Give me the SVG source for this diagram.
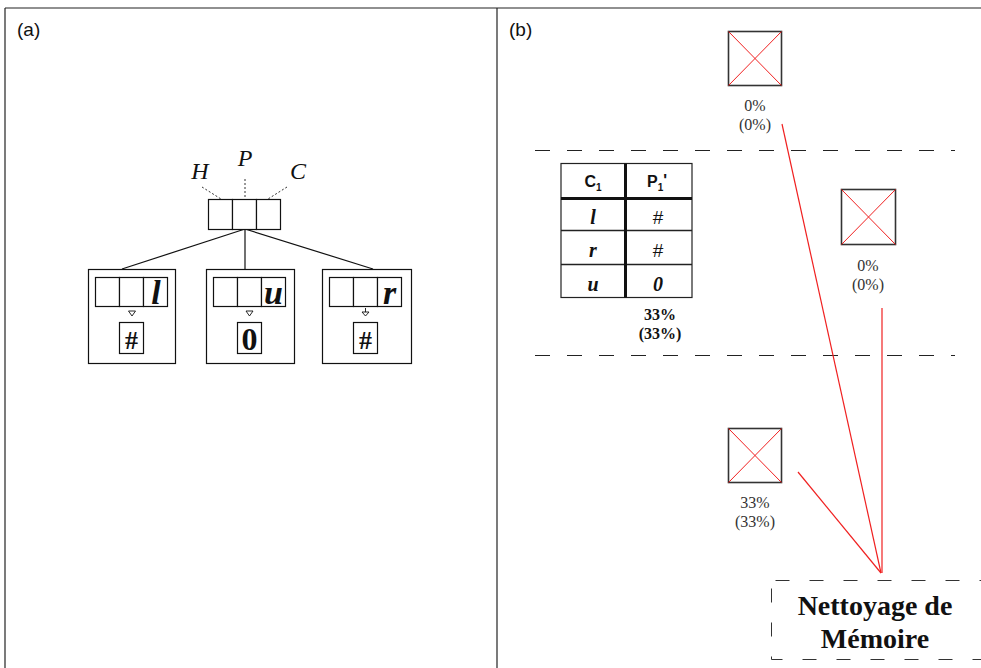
<svg xmlns="http://www.w3.org/2000/svg" width="981" height="668" viewBox="0 0 981 668">
<style>
.frame{stroke:#222;stroke-width:1.2;fill:none}
.box{fill:#fff;stroke:#111;stroke-width:1.2}
.lbl{font-family:"Liberation Sans",Arial,sans-serif;font-size:19px;fill:#111}
.it{font-family:"Liberation Serif","Times New Roman",serif;font-style:italic;font-size:24px;fill:#111;text-anchor:middle}
.bi{font-family:"Liberation Serif","Times New Roman",serif;font-style:italic;font-weight:bold;font-size:34px;fill:#111;text-anchor:middle}
.val{font-family:"Liberation Serif","Times New Roman",serif;font-weight:bold;font-size:26px;fill:#111;text-anchor:middle}
.dot{stroke:#333;stroke-width:1;stroke-dasharray:2 2;fill:none}
.edge{stroke:#111;stroke-width:1.2;fill:none}
.tri{fill:#fff;stroke:#111;stroke-width:0.9}
.dash{stroke:#222;stroke-width:1;stroke-dasharray:15 17;fill:none}
.cell{fill:#fff;stroke:#222;stroke-width:1.2}
.thick{stroke:#111;stroke-width:3;fill:none}
.thin{stroke:#222;stroke-width:1.5;fill:none}
.th{font-family:"Liberation Sans",Arial,sans-serif;font-weight:bold;font-size:16px;fill:#111;text-anchor:middle}
.tb{font-family:"Liberation Serif","Times New Roman",serif;font-style:italic;font-weight:bold;font-size:20px;fill:#111;text-anchor:middle}
.ta{font-family:"Liberation Sans",Arial,sans-serif;font-size:19px;fill:#111;text-anchor:middle}
.pct{font-family:"Liberation Serif","Times New Roman",serif;font-size:16px;fill:#333;text-anchor:middle}
.pctb{font-family:"Liberation Serif","Times New Roman",serif;font-weight:bold;font-size:16px;fill:#111;text-anchor:middle}
.xbox{fill:#fff;stroke:#333;stroke-width:1.6}
.x{stroke:#f02020;stroke-width:1}
.red{stroke:#f02020;stroke-width:1.2;fill:none}
.big{font-family:"Liberation Serif","Times New Roman",serif;font-weight:bold;font-size:28px;fill:#111;text-anchor:middle}
</style>

<g id="frame">
<line class="frame" x1="5" y1="8" x2="981" y2="8"/>
<line class="frame" x1="5" y1="8" x2="5" y2="668"/>
<line class="frame" x1="497" y1="8" x2="497" y2="668"/>
<text class="lbl" x="17" y="36">(a)</text>
<text class="lbl" x="509" y="36">(b)</text>
</g>

<!-- Part (a) -->
<g id="connectors-a">
<line class="dot" x1="202" y1="187" x2="221" y2="199"/>
<line class="dot" x1="245" y1="179" x2="245" y2="199"/>
<line class="dot" x1="287" y1="187" x2="268" y2="199"/>
<line class="edge" x1="245" y1="229" x2="122" y2="269"/>
<line class="edge" x1="245" y1="229" x2="245" y2="269"/>
<line class="edge" x1="245" y1="229" x2="373" y2="269"/>
</g>

<g id="root-node">
<rect class="box" x="208.5" y="199.5" width="24" height="30"/>
<rect class="box" x="232.5" y="199.5" width="24" height="30"/>
<rect class="box" x="256.5" y="199.5" width="24" height="30"/>
<text class="it" x="200" y="179">H</text>
<text class="it" x="245" y="166">P</text>
<text class="it" x="298" y="179">C</text>
</g>

<g id="child-l">
<rect class="box" x="88.5" y="269.5" width="87" height="94"/>
<rect class="box" x="95.5" y="277.5" width="24" height="29"/>
<rect class="box" x="119.5" y="277.5" width="24" height="29"/>
<rect class="box" x="143.5" y="277.5" width="24" height="29"/>
<text class="bi" x="156" y="304">l</text>
<polygon class="tri" points="128.5,311 135.5,311 132,316"/>
<rect class="box" x="119.5" y="322.5" width="24" height="31"/>
<text class="val" x="131.5" y="349">#</text>
</g>

<g id="child-u">
<rect class="box" x="206.5" y="269.5" width="88" height="94"/>
<rect class="box" x="213.5" y="277.5" width="24" height="29"/>
<rect class="box" x="237.5" y="277.5" width="24" height="29"/>
<rect class="box" x="261.5" y="277.5" width="24" height="29"/>
<text class="bi" x="273.5" y="304">u</text>
<polygon class="tri" points="246,311 253,311 249.5,316"/>
<rect class="box" x="237.5" y="322.5" width="24" height="31"/>
<text class="val" x="249.5" y="350" style="font-size:32px">0</text>
</g>

<g id="child-r">
<rect class="box" x="322.5" y="269.5" width="89" height="94"/>
<rect class="box" x="329.5" y="277.5" width="24" height="29"/>
<rect class="box" x="353.5" y="277.5" width="24" height="29"/>
<rect class="box" x="377.5" y="277.5" width="24" height="29"/>
<text class="bi" x="389.5" y="304">r</text>
<line x1="365.5" y1="308" x2="365.5" y2="313" stroke="#111" stroke-width="0.9"/>
<polygon class="tri" points="362,312 369,312 365.5,316"/>
<rect class="box" x="353.5" y="322.5" width="24" height="31"/>
<text class="val" x="365.5" y="349">#</text>
</g>

<!-- Part (b) -->
<g id="separators">
<line class="dash" x1="535" y1="150.5" x2="955" y2="150.5"/>
<line class="dash" x1="535" y1="355.5" x2="955" y2="355.5"/>
</g>

<g id="connectors-b">
<line class="red" x1="782" y1="124" x2="881" y2="573"/>
<line class="red" x1="882" y1="308" x2="882" y2="573"/>
<line class="red" x1="798" y1="472" x2="881" y2="573"/>
</g>

<g id="table">
<rect class="cell" x="561" y="163.5" width="131" height="134"/>
<line class="thin" x1="561" y1="230.5" x2="692" y2="230.5"/>
<line class="thin" x1="561" y1="264.5" x2="692" y2="264.5"/>
<line class="thick" x1="561" y1="198.5" x2="692" y2="198.5"/>
<line class="thick" x1="625.5" y1="163.5" x2="625.5" y2="297.5"/>
<text class="th" x="593" y="187">C<tspan font-size="10" dy="4">1</tspan></text>
<text class="th" x="657" y="187">P<tspan font-size="10" dy="4">1</tspan><tspan dy="-5">'</tspan></text>
<text class="tb" x="593" y="224">l</text>
<text class="ta" x="658" y="224">#</text>
<text class="tb" x="593" y="257">r</text>
<text class="ta" x="658" y="257">#</text>
<text class="tb" x="593" y="291">u</text>
<text class="tb" x="658" y="291">0</text>
<text class="pctb" x="660" y="320">33%</text>
<text class="pctb" x="660" y="339">(33%)</text>
</g>

<g id="node-top">
<rect class="xbox" x="728.5" y="31.5" width="53" height="54"/>
<line class="x" x1="728.5" y1="31.5" x2="781.5" y2="85.5"/>
<line class="x" x1="781.5" y1="31.5" x2="728.5" y2="85.5"/>
<text class="pct" x="755" y="111">0%</text>
<text class="pct" x="755" y="130">(0%)</text>
</g>

<g id="node-mid">
<rect class="xbox" x="841.5" y="189.5" width="54" height="55"/>
<line class="x" x1="841.5" y1="189.5" x2="895.5" y2="244.5"/>
<line class="x" x1="895.5" y1="189.5" x2="841.5" y2="244.5"/>
<text class="pct" x="868" y="271">0%</text>
<text class="pct" x="868" y="290">(0%)</text>
</g>

<g id="node-bottom">
<rect class="xbox" x="728.5" y="428.5" width="53" height="54"/>
<line class="x" x1="728.5" y1="428.5" x2="781.5" y2="482.5"/>
<line class="x" x1="781.5" y1="428.5" x2="728.5" y2="482.5"/>
<text class="pct" x="755" y="508">33%</text>
<text class="pct" x="755" y="527">(33%)</text>
</g>

<g id="node-nettoyage">
<rect x="771.5" y="580.5" width="240" height="79" fill="#fff" stroke="#333" stroke-width="1" stroke-dasharray="14 20" stroke-dashoffset="-4"/>
<text class="big" x="875" y="615">Nettoyage de</text>
<text class="big" x="875" y="648">Mémoire</text>
</g>
</svg>
